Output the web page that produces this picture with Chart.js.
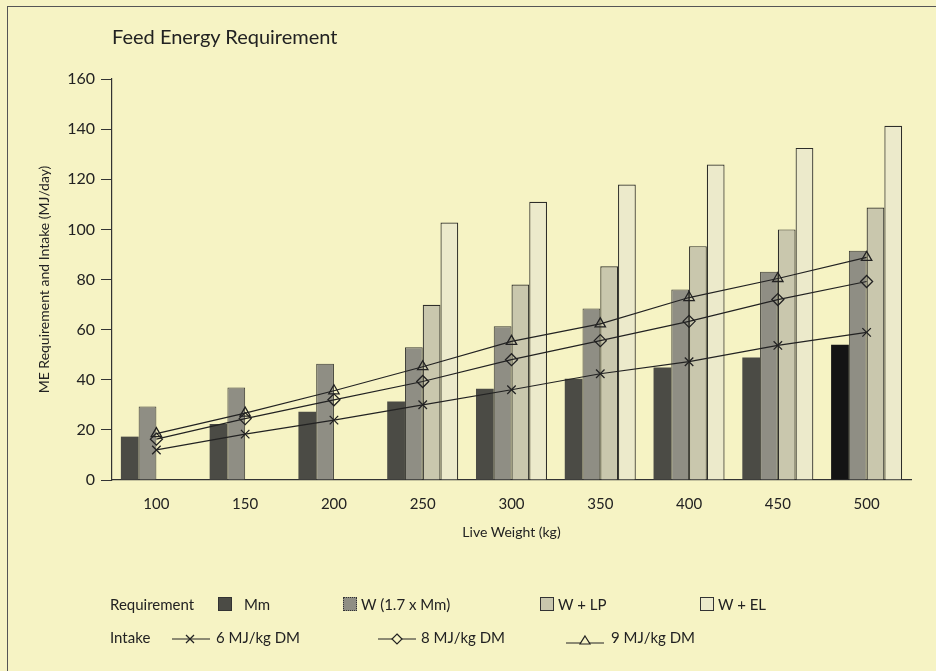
<!DOCTYPE html>
<html>
<head>
<meta charset="utf-8">
<script src="https://cdn.jsdelivr.net/npm/chart.js@4/dist/chart.umd.min.js"></script>
<style>
  body { margin: 0; background: #f6f3c4; }
  #wrap { position: relative; width: 936px; height: 671px; background: #f6f3c4; overflow: hidden; font-family: Lato, "Open Sans", sans-serif; color: #222; }
  #frame { position: absolute; left: 7px; top: 6px; width: 940px; height: 680px; border-left: 1px solid #555; border-top: 1px solid #555; }
  #title { position: absolute; left: 112px; top: 24px; font-size: 20px; }
  #xtitle { position: absolute; left: 112px; width: 799px; top: 523px; text-align: center; font-size: 14px; }
  .lg { position: absolute; font-size: 15px; white-space: nowrap; }
  .sw { position: absolute; width: 14px; height: 14px; border: 1px solid #333; box-sizing: border-box; }
  svg.sym { position: absolute; }
</style>
</head>
<body>
<div id="wrap">
  <div id="frame"></div>
  <canvas id="feed_energy-chart" width="936" height="671"></canvas>
  <div id="title">Feed Energy Requirement</div>
  <div id="xtitle">Live Weight (kg)</div>

  <div class="lg" style="left:110px; top:595px;">Requirement</div>
  <div class="sw" style="left:218px; top:597px; background:#4b4b45;"></div>
  <div class="lg" style="left:244px; top:595px;">Mm</div>
  <div class="sw" style="left:343px; top:597px; background:#8f8e84; border-style:dotted;"></div>
  <div class="lg" style="left:361px; top:595px;">W (1.7 x Mm)</div>
  <div class="sw" style="left:540px; top:597px; background:#c9c7ad;"></div>
  <div class="lg" style="left:558px; top:595px;">W + LP</div>
  <div class="sw" style="left:700px; top:597px; background:#eceacb;"></div>
  <div class="lg" style="left:718px; top:595px;">W + EL</div>

  <div class="lg" style="left:110px; top:628px;">Intake</div>
  <svg class="sym" style="left:170px; top:631px;" width="42" height="16">
    <line x1="2" y1="8" x2="40" y2="8" stroke="#222" stroke-width="1.2"/>
    <line x1="16" y1="4" x2="24" y2="12" stroke="#222" stroke-width="1.2"/>
    <line x1="24" y1="4" x2="16" y2="12" stroke="#222" stroke-width="1.2"/>
  </svg>
  <div class="lg" style="left:216px; top:628px;">6 MJ/kg DM</div>
  <svg class="sym" style="left:376px; top:631px;" width="42" height="16">
    <line x1="2" y1="8" x2="40" y2="8" stroke="#222" stroke-width="1.2"/>
    <polygon points="21,3 26,8 21,13 16,8" fill="#f6f3c4" stroke="#222" stroke-width="1.2"/>
  </svg>
  <div class="lg" style="left:421px; top:628px;">8 MJ/kg DM</div>
  <svg class="sym" style="left:564px; top:631px;" width="42" height="16">
    <line x1="2" y1="12" x2="40" y2="12" stroke="#222" stroke-width="1.2"/>
    <polygon points="21,5 26,13 16,13" fill="#f6f3c4" stroke="#222" stroke-width="1.2"/>
  </svg>
  <div class="lg" style="left:611px; top:628px;">9 MJ/kg DM</div>
</div>

<script>
// live weight categories (kg)
var liveWeight = ['100', '150', '200', '250', '300', '350', '400', '450', '500'];

// requirement bars (MJ/day)
var reqMm   = [17.3, 22.3, 27.2, 31.3, 36.4, 40.4, 44.9, 48.9, 54.0];
var reqW    = [29.3, 36.9, 46.4, 53.0, 61.3, 68.4, 76.0, 83.1, 91.5];
var reqWLP  = [null, null, null, 69.9, 78.0, 85.3, 93.3, 100.0, 108.7];
var reqWEL  = [null, null, null, 102.7, 111.0, 117.9, 125.9, 132.5, 141.3];

// intake lines (MJ/day)
var intake6 = [12.0, 18.3, 23.9, 30.0, 36.0, 42.4, 47.2, 53.7, 58.9];
var intake8 = [16.3, 24.5, 32.0, 39.3, 48.0, 55.6, 63.3, 72.0, 79.2];
var intake9 = [18.5, 26.7, 35.6, 45.2, 55.3, 62.3, 72.8, 80.4, 88.8];

var yTicks = [0, 20, 40, 60, 80, 100, 120, 140, 160];

var ink = '#222';
var fontFam = 'Lato, "Open Sans", sans-serif';

// last Mm bar is printed black in the original
var mmColors = reqMm.map(function(v, i) { return i === reqMm.length - 1 ? '#141414' : '#4b4b45'; });

function intakeLine(label, data, style) {
  return {
    type: 'line',
    label: label,
    data: data,
    order: 0,
    borderColor: ink,
    borderWidth: 1.2,
    pointStyle: style,
    pointRadius: 6,
    pointBorderWidth: 1.3,
    pointBorderColor: ink,
    pointBackgroundColor: 'rgba(0,0,0,0)',
    tension: 0
  };
}

var chartdata = {
  labels: liveWeight,
  datasets: [
    { label: 'Mm', data: reqMm, backgroundColor: mmColors, borderWidth: 0, order: 1 },
    { label: 'W (1.7 x Mm)', data: reqW, backgroundColor: '#8f8e84', borderColor: '#3a3a34', borderWidth: 1, order: 1 },
    { label: 'W + LP', data: reqWLP, backgroundColor: '#c9c7ad', borderColor: '#2e2e2a', borderWidth: 1.2, order: 1 },
    { label: 'W + EL', data: reqWEL, backgroundColor: '#eceacb', borderColor: '#2e2e2a', borderWidth: 1.2, order: 1 },
    intakeLine('6 MJ/kg DM', intake6, 'crossRot'),
    intakeLine('8 MJ/kg DM', intake8, 'rectRot'),
    intakeLine('9 MJ/kg DM', intake9, 'triangle')
  ]
};

var ctx = document.getElementById('feed_energy-chart');

new Chart(ctx, {
  type: 'bar',
  data: chartdata,
  options: {
    responsive: false,
    animation: false,
    layout: { padding: { left: 32, top: 79, right: 25, bottom: 0 } },
    datasets: { bar: { barPercentage: 1.0, categoryPercentage: 0.8, borderSkipped: 'bottom' } },
    plugins: { legend: { display: false }, tooltip: { enabled: false } },
    scales: {
      x: {
        grid: { display: false },
        border: { display: true, color: '#333', width: 1.2 },
        ticks: { color: ink, padding: 7, font: { family: fontFam, size: 15 } },
        afterFit: function(scale) { scale.height = 191; }
      },
      y: {
        min: 0,
        max: 160,
        afterBuildTicks: function(scale) { scale.ticks = yTicks.map(function(v) { return { value: v }; }); },
        grid: { drawOnChartArea: false, drawTicks: true, tickLength: 11, color: '#333', lineWidth: 1 },
        border: { display: true, color: '#333', width: 1.2 },
        ticks: { color: ink, padding: 6, font: { family: fontFam, size: 16 } },
        title: { display: true, text: 'ME Requirement and Intake (MJ/day)', color: ink, padding: { bottom: 4 }, font: { family: fontFam, size: 14 } },
        afterFit: function(scale) { scale.width = 80; }
      }
    }
  }
});
</script>
</body>
</html>
